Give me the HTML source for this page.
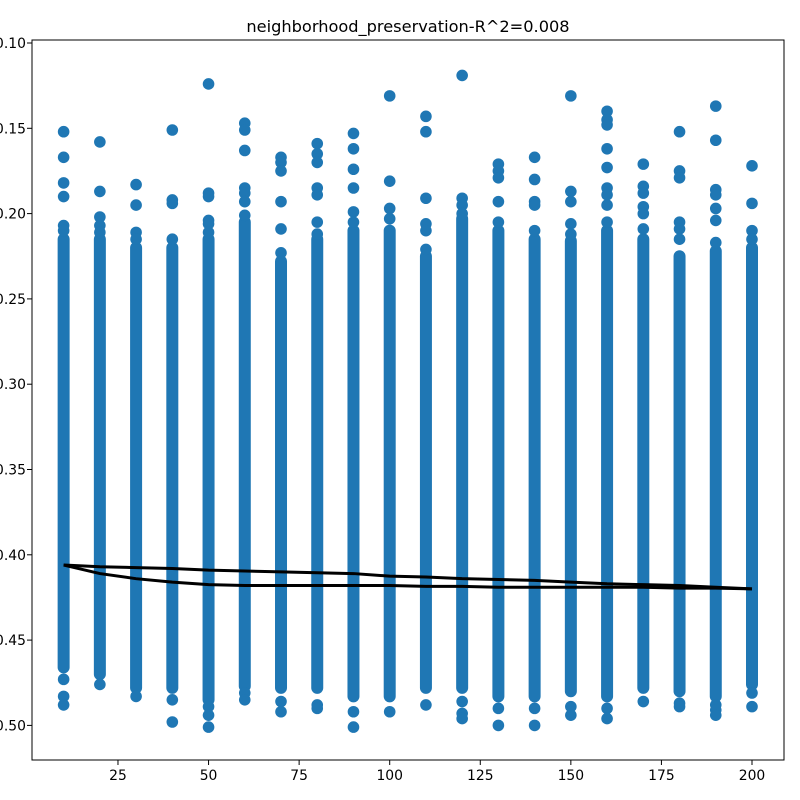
<!DOCTYPE html>
<html><head><meta charset="utf-8"><style>
body{margin:0;background:#fff}
svg{display:block;font-family:"DejaVu Sans","Liberation Sans",sans-serif}
</style></head><body>
<svg id="chart" width="800" height="800">
<rect x="0" y="0" width="800" height="800" fill="#fff"/>
<text x="408" y="32" text-anchor="middle" font-size="16.2">neighborhood_preservation-R^2=0.008</text>
<g id="marks"></g>
<g id="lines"></g>
<g id="axes"></g>
</svg>
<script>
const xs=[10,20,30,40,50,60,70,80,90,100,110,120,130,140,150,160,170,180,190,200];
const denseLo=[.215,.215,.220,.220,.215,.205,.228,.215,.210,.210,.225,.203,.210,.215,.216,.210,.215,.225,.222,.220];
const denseHi=[.466,.470,.478,.478,.485,.477,.478,.478,.483,.483,.478,.478,.483,.483,.480,.483,.478,.480,.483,.476];
const outliers=[
[.152,.167,.182,.190,.207,.210,.473,.483,.488],
[.158,.187,.202,.207,.211,.476],
[.183,.195,.211,.215,.483],
[.151,.192,.194,.215,.485,.498],
[.124,.188,.190,.204,.206,.211,.489,.494,.501],
[.147,.151,.163,.185,.188,.193,.201,.481,.485],
[.167,.170,.175,.193,.209,.223,.486,.492],
[.159,.165,.170,.185,.189,.205,.212,.488,.490],
[.153,.162,.174,.185,.199,.205,.492,.501],
[.131,.181,.197,.203,.492],
[.143,.152,.191,.206,.210,.221,.488],
[.119,.191,.195,.200,.486,.493,.496],
[.171,.175,.179,.193,.205,.490,.500],
[.167,.180,.193,.195,.210,.490,.500],
[.131,.187,.193,.206,.212,.489,.494],
[.140,.145,.148,.162,.173,.185,.189,.195,.205,.490,.496],
[.171,.184,.188,.196,.200,.209,.486],
[.152,.175,.179,.205,.209,.215,.487,.489],
[.137,.157,.186,.189,.197,.204,.217,.488,.491,.494],
[.172,.194,.210,.215,.481,.489]];
const lineA=[.406,.407,.4075,.408,.409,.4095,.410,.4105,.411,.4125,.413,.414,.4145,.415,.416,.417,.4175,.418,.419,.420];
const lineB=[.406,.411,.414,.416,.4175,.418,.418,.418,.418,.418,.4185,.4185,.419,.419,.419,.419,.419,.4195,.4195,.420];
const xTicks=[25,50,75,100,125,150,175,200];
const yTicks=[0.10,0.15,0.20,0.25,0.30,0.35,0.40,0.45,0.50];
const yTickLabels=["-0.10","-0.15","-0.20","-0.25","-0.30","-0.35","-0.40","-0.45","-0.50"];

const L=32,R=784,T=40,B=760;
function X(v){return 27.4+v*3.623;}
function Y(v){return 43+(v-0.10)*1706;}
const NS="http://www.w3.org/2000/svg";
function mk(t,a,p){const e=document.createElementNS(NS,t);for(const k in a)e.setAttribute(k,a[k]);p.appendChild(e);return e;}
const marks=document.getElementById('marks'),lines=document.getElementById('lines'),axes=document.getElementById('axes');
const C="#1f77b4";
xs.forEach((x,i)=>{
  const b=mk('line',{x1:X(x),x2:X(x),y1:Y(denseLo[i]),y2:Y(denseHi[i]),stroke:C,'stroke-width':12,'stroke-linecap':'round'},marks);
  
  
  outliers[i].forEach(v=>{
    const c=mk('circle',{cx:X(x),cy:Y(v),r:5.8,fill:C},marks);
    
    
  });
});
[lineA,lineB].forEach((arr,j)=>{
  const p=mk('polyline',{points:xs.map((x,i)=>X(x)+','+Y(arr[i])).join(' '),fill:'none',stroke:'#000','stroke-width':3},lines);
  
  
});
const fr=mk('rect',{x:L,y:T,width:R-L,height:B-T,fill:'none',stroke:'#000','stroke-width':1},axes);


xTicks.forEach(t=>{
  mk('line',{x1:X(t),x2:X(t),y1:B,y2:B+5,stroke:'#000'},axes);
  const tx=mk('text',{x:X(t),y:B+20,'text-anchor':'middle','font-size':13.9},axes);
  tx.textContent=t;
  
  
});
yTicks.forEach((t,i)=>{
  mk('line',{x1:L-5,x2:L,y1:Y(t),y2:Y(t),stroke:'#000'},axes);
  const tx=mk('text',{x:26,y:Y(t)+5,'text-anchor':'end','font-size':13.9},axes);
  tx.textContent=yTickLabels[i];
  
  
});
</script>
</body></html>
